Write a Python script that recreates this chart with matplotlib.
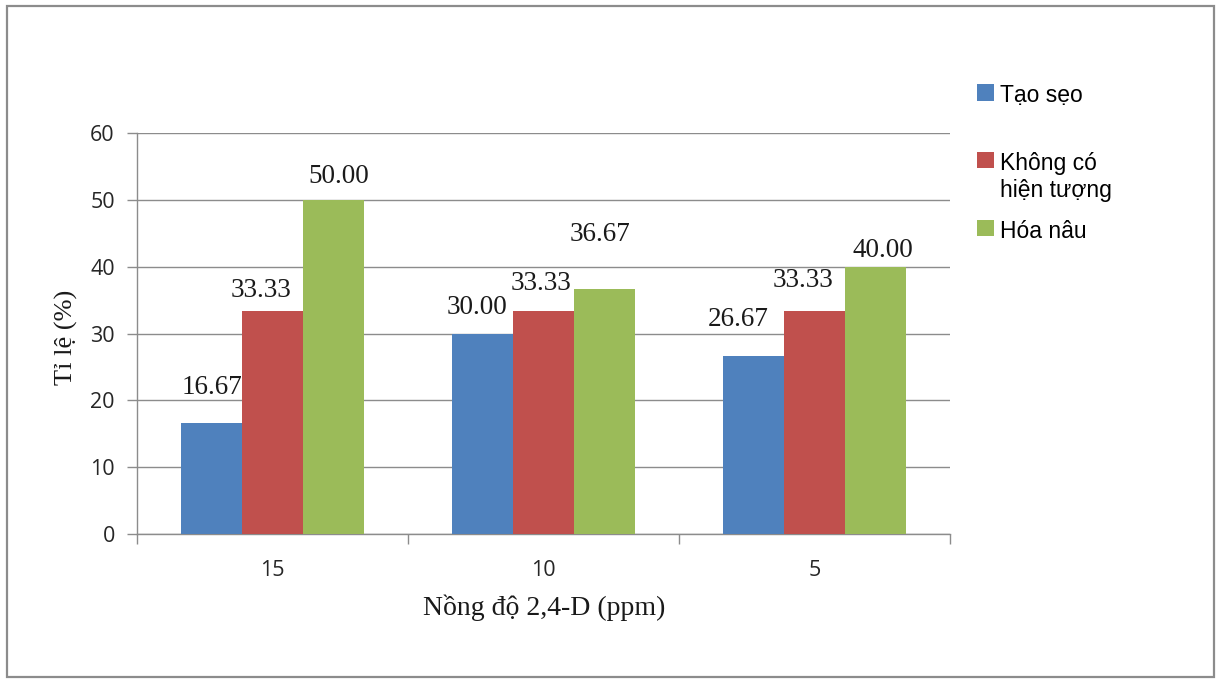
#!/usr/bin/env python3
"""
Bar chart: ti le (%) theo nong do 2,4-D. Writes out.png.
"""
import matplotlib
matplotlib.use("Agg")
import matplotlib.pyplot as plt
from matplotlib.patches import Rectangle
import numpy as np

# data
concentrations = ["15", "10", "5"]
series_names = ["Tạo sẹo", "Không có\nhiện tượng", "Hóa nâu"]
tao_seo = [16.67, 30.00, 26.67]
khong_co = [33.33, 33.33, 33.33]
hoa_nau = [50.00, 36.67, 40.00]

colors = ["#4F81BD", "#C0504D", "#9BBB59"]
# manual label offsets (pixels) from each bar top, like the hand-placed Excel labels
label_offsets = [
    [(0, 35), (-5.5, 26.5), (-15.5, 36)],
    [(-11, 21), (-2, 28), (-11.5, 31)],
    [(5.5, 23), (-4.5, 54), (7.5, 16)],
]

serif = "Liberation Serif"
tick_font = "Open Sans"
legend_font = "Liberation Sans"
grey = "#8c8c8c"

fig = plt.figure(figsize=(12.16, 6.79), dpi=100)
ax = fig.add_axes([137 / 1216, 145 / 679, 813 / 1216, 401 / 679])

x = np.arange(len(concentrations))
w = 0.225
bars = []
for i, vals in enumerate([tao_seo, khong_co, hoa_nau]):
    pos = x + (i - 1) * w
    bars.append(ax.bar(pos, vals, width=w, color=colors[i], zorder=3))
    for j, v in enumerate(vals):
        dx, dy = label_offsets[i][j]
        ax.annotate(f"{v:.2f}", xy=(pos[j], v), xytext=(dx, dy),
                    textcoords="offset pixels", ha="center", va="center",
                    fontsize=19.5, family=serif, color="#1a1a1a", zorder=4)

ax.set_xlim(-0.5, 2.5)
ax.set_ylim(0, 60)
ax.set_yticks(range(0, 61, 10))
ax.set_xticks(x)
ax.set_xticklabels(concentrations)
# tick marks sit on the group boundaries
ax.set_xticks([-0.5, 0.5, 1.5, 2.5], minor=True)
ax.tick_params(axis="x", which="major", length=0, pad=19)
ax.tick_params(axis="x", which="minor", length=7, color=grey, width=1)
ax.tick_params(axis="y", length=7, color=grey, width=1, pad=9)
for lab in ax.get_xticklabels() + ax.get_yticklabels():
    lab.set_fontfamily(tick_font)
    lab.set_fontsize(15.5)
    lab.set_color("#262626")

ax.yaxis.grid(True, color=grey, linewidth=1, zorder=0)
ax.set_axisbelow(True)
for side in ["top", "right"]:
    ax.spines[side].set_visible(False)
for side in ["left", "bottom"]:
    ax.spines[side].set_color(grey)
    ax.spines[side].set_linewidth(1)

ax.set_ylabel("Tỉ lệ (%)", fontsize=19, family=serif, color="#1a1a1a")
ax.yaxis.set_label_coords(-0.072, 0.491)
ax.set_xlabel("Nồng độ 2,4-D (ppm)", fontsize=20, family=serif, color="#1a1a1a")
ax.xaxis.set_label_coords(0.5006, -0.152)

# first entry gets an empty second line so the first lines are evenly spaced, as in Excel
leg_labels = [series_names[0] + "\n"] + series_names[1:]
leg = ax.legend(bars, leg_labels, loc="upper left",
                bbox_to_anchor=(966 / 1216, 606 / 679),
                bbox_transform=fig.transFigure, frameon=False,
                prop={"family": legend_font, "size": 16.5},
                handlelength=0.7, handleheight=0.7, handletextpad=0.3,
                labelspacing=0.79, borderpad=0)
# put each square next to the first line of its label
for col in leg._legend_handle_box.get_children():
    for item in col.get_children():
        item.align = "top"

# outer chart frame
fig.patches.append(Rectangle((7 / 1216, 2 / 679), 1207 / 1216, 671 / 679,
                             transform=fig.transFigure, fill=False,
                             edgecolor=grey, linewidth=1.6))

fig.savefig("out.png", dpi=100)
